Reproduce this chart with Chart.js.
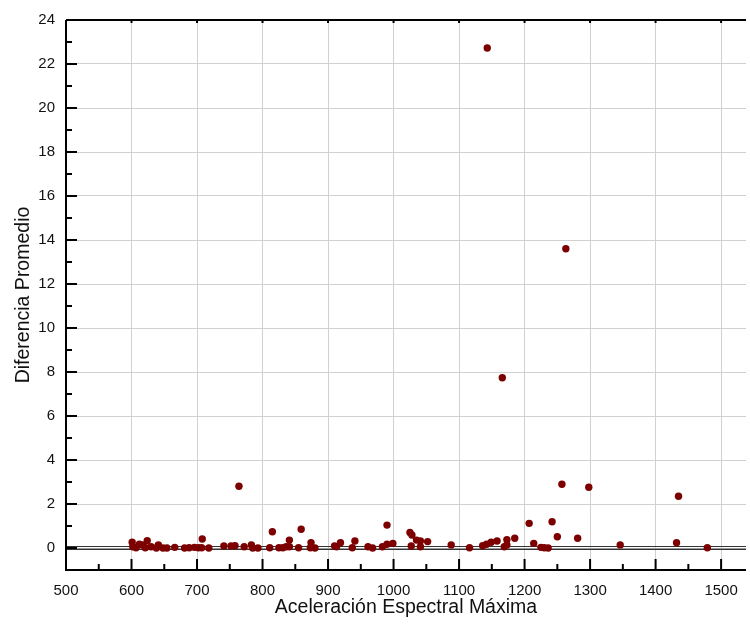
<!DOCTYPE html>
<html>
<head>
<meta charset="utf-8">
<script src="https://cdn.jsdelivr.net/npm/chart.js@4.4.0/dist/chart.umd.min.js"></script>
<style>
  html, body { margin: 0; padding: 0; background: #fff; }
  #wrap { width: 750px; height: 635px; }
</style>
</head>
<body>
<div id="wrap"><canvas id="chart" width="750" height="635"></canvas></div>
<script>
// Aceleración espectral máxima (x) vs diferencia promedio (y)
const aceleracion = [
  601, 602, 607, 612, 617, 624, 621, 630, 638, 641, 648, 654, 666, 681, 688, 696, 702, 708, 707, 718, 741, 752,
  758, 772, 783, 785, 793, 815, 811, 825, 831, 836, 841, 841, 855, 859, 873, 874, 880, 910,
  913, 919, 937, 941, 961, 968, 983, 990, 990, 999, 1025, 1028, 1027, 1035, 1041, 1041, 1052,
  1088, 1116, 1136, 1142, 1149, 1158, 1169, 1173, 1173, 1185, 1207, 1214, 1225, 1230,
  1236, 1242, 1250, 1281, 1346, 1432, 1479,
  1143, 1263, 1166, 764, 1257, 1298, 1435
];
const diferencia = [
  0.26, 0.06, 0.01, 0.17, 0.14, 0.33, 0.01, 0.06, 0.0, 0.14, 0.0, 0.0, 0.03, 0.0, 0.01, 0.03, 0.01, 0.41, 0.01, 0.0, 0.09, 0.09,
  0.10, 0.06, 0.14, 0.0, 0.0, 0.74, 0.01, 0.01, 0.01, 0.06, 0.36, 0.06, 0.01, 0.85, 0.01, 0.24, 0.0, 0.09,
  0.06, 0.24, 0.01, 0.32, 0.06, 0.0, 0.06, 0.17, 1.04, 0.21, 0.71, 0.59, 0.09, 0.36, 0.32, 0.06, 0.29,
  0.14, 0.01, 0.10, 0.17, 0.26, 0.32, 0.06, 0.38, 0.14, 0.44, 1.12, 0.21, 0.03, 0.01,
  0.0, 1.19, 0.51, 0.44, 0.14, 0.24, 0.01,
  22.73, 13.6, 7.74, 2.81, 2.9, 2.76, 2.35
];
const xTicks = [500, 600, 700, 800, 900, 1000, 1100, 1200, 1300, 1400, 1500];
const xMinorTicks = [550, 650, 750, 850, 950, 1050, 1150, 1250, 1350, 1450];
const yTicks = [0, 2, 4, 6, 8, 10, 12, 14, 16, 18, 20, 22, 24];
const yMinorTicks = [1, 3, 5, 7, 9, 11, 13, 15, 17, 19, 21, 23];

const puntos = aceleracion.map((x, i) => ({ x: x, y: diferencia[i] }));

// axis frame, inward tick marks and the double zero line
const marcoPlugin = {
  id: 'marco',
  beforeDatasetsDraw(chart) {
    const ctx = chart.ctx;
    const area = chart.chartArea;
    const y0 = Math.round(chart.scales.y.getPixelForValue(0));
    ctx.save();
    ctx.strokeStyle = '#333';
    ctx.lineWidth = 1;
    ctx.beginPath();
    ctx.moveTo(area.left, y0 - 1.5); ctx.lineTo(area.right, y0 - 1.5);
    ctx.moveTo(area.left, y0 + 1.5); ctx.lineTo(area.right, y0 + 1.5);
    ctx.stroke();
    ctx.strokeStyle = '#999';
    ctx.beginPath();
    ctx.moveTo(area.left, y0 + 0.5); ctx.lineTo(area.right, y0 + 0.5);
    ctx.stroke();
    ctx.restore();
  },
  afterDraw(chart) {
    const ctx = chart.ctx;
    const area = chart.chartArea;
    const xs = chart.scales.x, ys = chart.scales.y;
    ctx.save();
    ctx.strokeStyle = '#000';
    ctx.lineWidth = 2;
    ctx.beginPath();
    ctx.moveTo(area.left, area.top); ctx.lineTo(area.right, area.top);
    ctx.moveTo(area.left, area.top); ctx.lineTo(area.left, area.bottom);
    ctx.lineTo(area.right, area.bottom);
    ctx.stroke();
    ctx.beginPath();
    xTicks.forEach(v => {
      const p = xs.getPixelForValue(v);
      ctx.moveTo(p, area.bottom); ctx.lineTo(p, area.bottom - 11);
      ctx.moveTo(p, area.top); ctx.lineTo(p, area.top + 3);
    });
    xMinorTicks.forEach(v => {
      const p = xs.getPixelForValue(v);
      ctx.moveTo(p, area.bottom); ctx.lineTo(p, area.bottom - 6);
    });
    yTicks.forEach(v => {
      const p = ys.getPixelForValue(v);
      ctx.moveTo(area.left, p); ctx.lineTo(area.left + 11, p);
    });
    yMinorTicks.forEach(v => {
      const p = ys.getPixelForValue(v);
      ctx.moveTo(area.left, p); ctx.lineTo(area.left + 6, p);
    });
    ctx.stroke();
    ctx.restore();
  }
};

new Chart(document.getElementById('chart').getContext('2d'), {
  type: 'scatter',
  data: {
    datasets: [{
      data: puntos,
      backgroundColor: '#7d0000',
      borderColor: '#7d0000',
      borderWidth: 0,
      pointRadius: 3.7
    }]
  },
  options: {
    responsive: false,
    animation: false,
    events: [],
    layout: { padding: { top: 18, right: 0, left: 0, bottom: 0 } },
    plugins: { legend: { display: false }, tooltip: { enabled: false } },
    scales: {
      x: {
        type: 'linear',
        min: 500,
        max: 1538,
        afterBuildTicks: s => { s.ticks = xTicks.map(v => ({ value: v })); },
        afterFit: s => { s.height = 65; },
        grid: { color: '#d0d0d0', lineWidth: 1, drawTicks: false },
        border: { display: false },
        ticks: {
          color: '#111', padding: 12,
          font: { family: 'Liberation Sans', size: 15 },
          callback: v => String(v)
        },
        title: {
          display: true,
          text: 'Aceleración Espectral Máxima',
          color: '#111',
          padding: { top: 0, bottom: 16 },
          font: { family: 'Liberation Sans', size: 19.5 }
        }
      },
      y: {
        type: 'linear',
        min: -1,
        max: 24,
        afterBuildTicks: s => { s.ticks = yTicks.map(v => ({ value: v })); },
        afterFit: s => { s.width = 66; },
        grid: { color: '#d0d0d0', lineWidth: 1, drawTicks: false },
        border: { display: false },
        ticks: {
          color: '#111', padding: 11,
          font: { family: 'Liberation Sans', size: 15 },
          callback: v => String(v)
        },
        title: {
          display: true,
          text: 'Diferencia Promedio',
          color: '#111',
          padding: { top: 12, bottom: 0 },
          font: { family: 'Liberation Sans', size: 19.5 }
        }
      }
    }
  },
  plugins: [marcoPlugin]
});
</script>
</body>
</html>
